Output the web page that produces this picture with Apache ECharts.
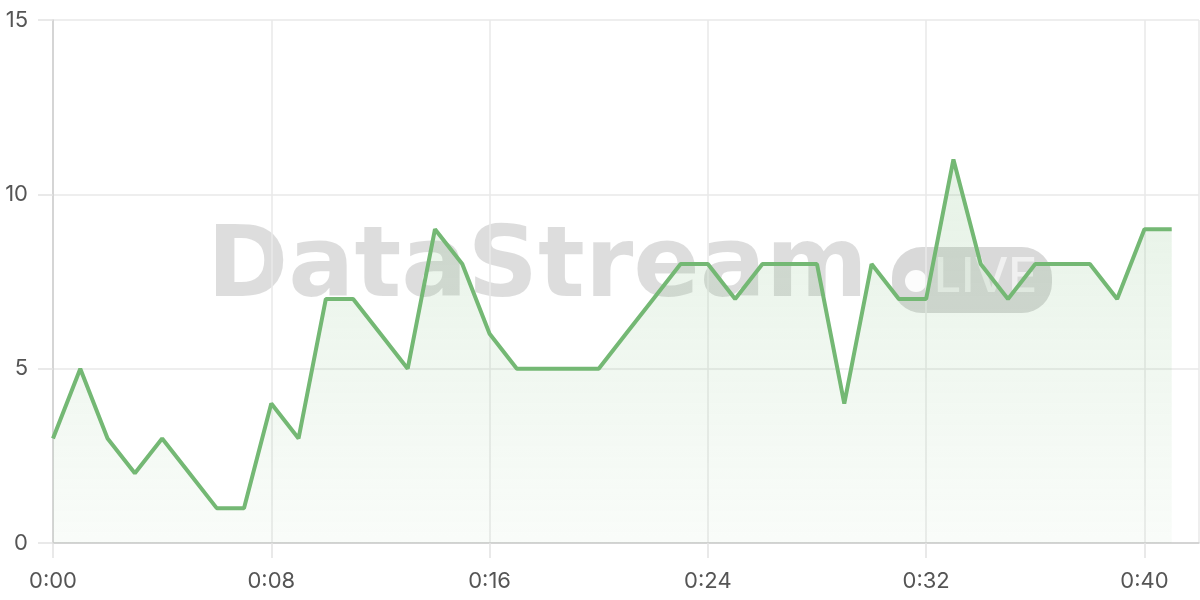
<!DOCTYPE html>
<html>
<head>
<meta charset="utf-8">
<script src="https://cdn.jsdelivr.net/npm/echarts@6/dist/echarts.min.js"></script>
<style>
html,body{margin:0;padding:0;background:#fff;}
#chart{width:1200px;height:600px;}
</style>
</head>
<body>
<div id="chart"></div>
<script>
// seconds elapsed
const times = [0,1,2,3,4,5,6,7,8,9,10,11,12,13,14,15,16,17,18,19,20,21,22,23,24,25,26,27,28,29,30,31,32,33,34,35,36,37,38,39,40,41];
const values = [3,5,3,2,3,2,1,1,4,3,7,7,6,5,9,8,6,5,5,5,5,6,7,8,8,7,8,8,8,4,8,7,7,11,8,7,8,8,8,7,9,9];
const yTicks = [0,5,10,15];
const watermarkTitle = 'DataStream';
const watermarkBadge = 'LIVE';

function fmtTime(v){ const m = Math.floor(v/60), s = v%60; return m + ':' + (s<10?'0':'') + s; }

const chart = echarts.init(document.getElementById('chart'));
chart.setOption({
  animation:false,
  grid:{left:53, right:1, top:20, bottom:57},
  graphic:[
    {type:'text', z:0, left:207, top:222, style:{text:watermarkTitle, font:'bold 98px "DejaVu Sans"', fill:'rgba(0,0,0,0.135)'}},
    {type:'rect', z:0, shape:{x:892, y:247, width:160, height:66, r:30}, style:{fill:'rgba(0,0,0,0.15)'}},
    {type:'circle', z:0, shape:{cx:916, cy:281, r:11}, style:{fill:'rgba(255,255,255,0.9)'}},
    {type:'text', z:0, left:934, top:254, style:{text:watermarkBadge, font:'500 48px Inter', fill:'rgba(255,255,255,0.6)'}}
  ],
  xAxis:{
    type:'value', min:0, max:42, interval:8,
    axisLine:{show:true, lineStyle:{color:'#cccccc', width:1.5}},
    axisTick:{show:true, length:15, lineStyle:{color:'#e2e2e2', width:1.5}},
    splitLine:{show:true, lineStyle:{color:'#e8e8e8', width:1.5}},
    axisLabel:{showMaxLabel:false, color:'#555', fontSize:22, fontFamily:'Inter', margin:27, formatter:fmtTime}
  },
  yAxis:{
    type:'value', min:yTicks[0], max:yTicks[yTicks.length-1], interval:5,
    axisLine:{show:true, lineStyle:{color:'#cccccc', width:1.5}},
    axisTick:{show:true, length:15, lineStyle:{color:'#e2e2e2', width:1.5}},
    splitLine:{show:true, lineStyle:{color:'#e8e8e8', width:1.5}},
    axisLabel:{color:'#555', fontSize:22, fontFamily:'Inter', margin:25}
  },
  series:[{
    type:'line', z:2,
    data: times.map((t,i)=>[t, values[i]]),
    showSymbol:false, symbol:'none',
    lineStyle:{color:'#74b874', width:4},
    itemStyle:{color:'#74b874'},
    areaStyle:{color:new echarts.graphic.LinearGradient(0,0,0,1,[
      {offset:0, color:'rgba(116,184,116,0.26)'},
      {offset:1, color:'rgba(116,184,116,0.06)'}
    ])}
  }]
});
</script>
</body>
</html>
